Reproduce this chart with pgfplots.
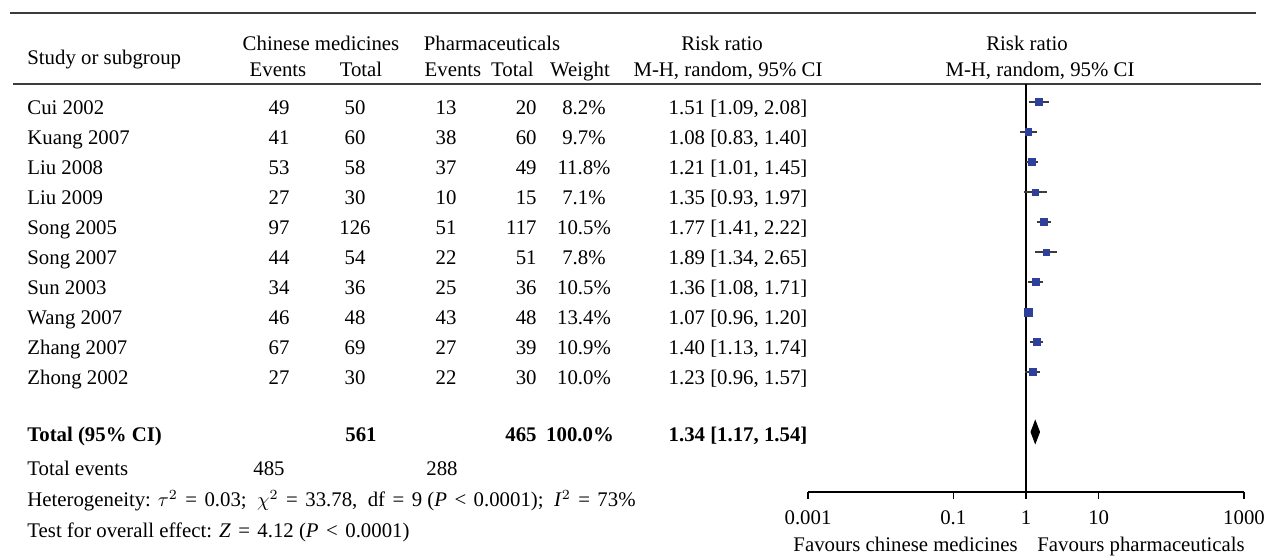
\documentclass[border=0pt]{standalone}
\usepackage{pgfplots}
\pgfplotsset{compat=1.18}
\usepackage{pgfplotstable}
\usepackage{fontspec}
\setmainfont{Liberation Serif}

\definecolor{mblue}{RGB}{47,64,155}
\definecolor{rulec}{RGB}{60,60,60}
\newcommand\fs{\fontsize{10.4pt}{12pt}\selectfont}
\newcommand\rel[1]{\hspace{0.36em}#1\hspace{0.36em}}

% study estimates, y = -row
\pgfplotstableread{
y    rr   w
-1   1.51 8.2
-2   1.08 9.7
-3   1.21 11.8
-4   1.35 7.1
-5   1.77 10.5
-6   1.89 7.8
-7   1.36 10.5
-8   1.07 13.4
-9   1.40 10.9
-10  1.23 10.0
}\studies

% one text row of the table (baseline y in px)
\newcommand{\studyrow}[8]{%
  \node[anchor=base west] at (27,#1) {#2};
  \node[anchor=base] at (279,#1) {#3};
  \node[anchor=base] at (355,#1) {#4};
  \node[anchor=base] at (446,#1) {#5};
  \node[anchor=base east] at (537,#1) {#6};
  \node[anchor=base] at (584,#1) {#7};
  \node[anchor=base] at (738,#1) {#8};}

\begin{document}
\begin{tikzpicture}[every node/.style={inner sep=0pt, font=\fs}]
\useasboundingbox (0,0) rectangle (632pt,280pt);

\begin{scope}[x=0.5pt, y=-0.5pt, shift={(0pt,280pt)}]
  \draw[rulec, line width=1pt] (10,13) -- (1256,13);
  \draw[rulec, line width=1pt] (13,84) -- (1261,84);

  % header
  \node[anchor=base west] at (27,65) {Study or subgroup};
  \node[anchor=base] at (321,51) {Chinese medicines};
  \node[anchor=base] at (492,51) {Pharmaceuticals};
  \node[anchor=base] at (278,77) {Events};
  \node[anchor=base] at (361,77) {Total};
  \node[anchor=base] at (453,77) {Events};
  \node[anchor=base east] at (534,77) {Total};
  \node[anchor=base] at (580,77) {Weight};
  \node[anchor=base] at (722,51) {Risk ratio};
  \node[anchor=base] at (728,77) {M-H, random, 95\% CI};
  \node[anchor=base] at (1027,51) {Risk ratio};
  \node[anchor=base] at (1040,77) {M-H, random, 95\% CI};

  \studyrow{115}{Cui 2002}{49}{50}{13}{20}{8.2\%}{1.51 [1.09, 2.08]}
  \studyrow{145}{Kuang 2007}{41}{60}{38}{60}{9.7\%}{1.08 [0.83, 1.40]}
  \studyrow{175}{Liu 2008}{53}{58}{37}{49}{11.8\%}{1.21 [1.01, 1.45]}
  \studyrow{205}{Liu 2009}{27}{30}{10}{15}{7.1\%}{1.35 [0.93, 1.97]}
  \studyrow{235}{Song 2005}{97}{126}{51}{117}{10.5\%}{1.77 [1.41, 2.22]}
  \studyrow{265}{Song 2007}{44}{54}{22}{51}{7.8\%}{1.89 [1.34, 2.65]}
  \studyrow{295}{Sun 2003}{34}{36}{25}{36}{10.5\%}{1.36 [1.08, 1.71]}
  \studyrow{325}{Wang 2007}{46}{48}{43}{48}{13.4\%}{1.07 [0.96, 1.20]}
  \studyrow{355}{Zhang 2007}{67}{69}{27}{39}{10.9\%}{1.40 [1.13, 1.74]}
  \studyrow{385}{Zhong 2002}{27}{30}{22}{30}{10.0\%}{1.23 [0.96, 1.57]}

  \node[anchor=base west] at (27,442) {\bfseries Total (95\% CI)};
  \node[anchor=base] at (361,442) {\bfseries 561};
  \node[anchor=base east] at (537,442) {\bfseries 465};
  \node[anchor=base] at (580,442) {\bfseries 100.0\%};
  \node[anchor=base] at (738,442) {\bfseries 1.34 [1.17, 1.54]};

  \node[anchor=base west] at (27,476) {Total events};
  \node[anchor=base] at (269,476) {485};
  \node[anchor=base] at (442,476) {288};
  \node[anchor=base west] at (27,507) {Heterogeneity: $\tau^2$\rel{=}0.03;\ \ $\chi^2$\rel{=}33.78,\ \ df\rel{=}9 (\textit{P}\rel{<}0.0001);\ \ \textit{I}$^2$\rel{=}73\%};
  \node[anchor=base west] at (27,538) {Test for overall effect: \textit{Z}\rel{=}4.12 (\textit{P}\rel{<}0.0001)};

  \node[anchor=base east] at (1018,552) {Favours chinese medicines};
  \node[anchor=base west] at (1037,552) {Favours pharmaceuticals};
\end{scope}

\begin{axis}[
  at={(404pt,34pt)}, anchor=south west,
  scale only axis, width=218pt, height=204pt,
  xmode=log, xmin=0.001, xmax=1000, ymin=-14, ymax=-0.4,
  axis x line*=bottom, axis y line=none,
  x axis line style={-, black, line width=0.6pt},
  xtick={0.001,0.1,1,10,1000}, xticklabels={0.001,0.1,1,10,1000},
  xminorticks=false, tick align=outside, major tick length=3.5pt,
  tick style={black, line width=0.6pt},
  xticklabel style={font=\fs, anchor=base, yshift=-13pt},
  clip=false,
]
  % line of no effect
  \addplot[black, line width=0.6pt] coordinates {(1,-0.4) (1,-14)};
  % confidence intervals
  \addplot[rulec, line width=0.7pt, unbounded coords=jump] coordinates {
    (1.09,-1) (2.08,-1) (nan,nan)
    (0.83,-2) (1.40,-2) (nan,nan)
    (1.01,-3) (1.45,-3) (nan,nan)
    (0.93,-4) (1.97,-4) (nan,nan)
    (1.41,-5) (2.22,-5) (nan,nan)
    (1.34,-6) (2.65,-6) (nan,nan)
    (1.08,-7) (1.71,-7) (nan,nan)
    (0.96,-8) (1.20,-8) (nan,nan)
    (1.13,-9) (1.74,-9) (nan,nan)
    (0.96,-10) (1.57,-10)
  };
  % weighted squares
  \addplot[scatter, only marks, mark=square*, point meta=\thisrow{w},
    scatter/use mapped color={draw=mblue, fill=mblue},
    visualization depends on={0.55*sqrt(\thisrow{w}) \as \msz},
    scatter/@pre marker code/.append style={/tikz/mark size=\msz}]
    table[x=rr, y=y] {\studies};
  % pooled estimate
  \addplot[fill=black, draw=black] coordinates {
    (1.17,-12) (1.34,-11.62) (1.54,-12) (1.34,-12.38)} -- cycle;
\end{axis}
\end{tikzpicture}
\end{document}
